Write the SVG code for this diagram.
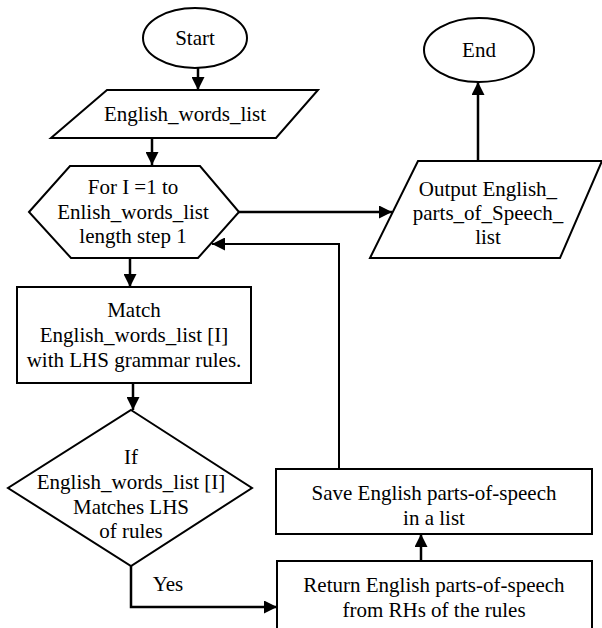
<svg xmlns="http://www.w3.org/2000/svg" width="602" height="628" viewBox="0 0 602 628">
<style>
.s{fill:#fff;stroke:#000;stroke-width:2}
.t{font-family:'Liberation Serif','Times New Roman','DejaVu Serif',serif;font-size:21px;fill:#000;text-anchor:middle}
.c{fill:none;stroke:#000;stroke-width:2.5}
</style>
<defs>
<marker id="a" viewBox="0 0 13 13" refX="13" refY="6.5" markerWidth="13" markerHeight="13" markerUnits="userSpaceOnUse" orient="auto">
<path d="M0,0L13,6.5L0,13z" fill="#000"/>
</marker>
</defs>
<rect width="602" height="628" fill="#fff"/>
<g font-family="Liberation Serif, Times New Roman, serif">
<g id="start"><ellipse class="s" cx="195" cy="38" rx="52" ry="30"/><text class="t" x="195" y="45">Start</text></g>
<g id="input"><polygon class="s" points="107,90 318,90 276,138 51,138"/><text class="t" x="185" y="121">English_words_list</text></g>
<g id="loop"><polygon class="s" points="29,212 70,166 200,166 239,212 198,258 71,258"/>
<text class="t" x="133" y="194">For I =1 to</text><text class="t" x="133" y="219">Enlish_words_list</text><text class="t" x="133" y="243">length step 1</text></g>
<g id="match"><rect class="s" x="17" y="287" width="234" height="96"/>
<text class="t" x="134" y="317">Match</text><text class="t" x="134" y="342">English_words_list [I]</text><text class="t" x="134" y="367">with LHS grammar rules.</text></g>
<g id="decision"><polygon class="s" points="131,410 252,488 131,566 8,488"/>
<text class="t" x="131" y="464">If</text><text class="t" x="131" y="489">English_words_list [I]</text><text class="t" x="131" y="514">Matches LHS</text><text class="t" x="131" y="538">of rules</text></g>
<g id="output"><polygon class="s" points="418,161 602,161 560,258 370,258"/>
<text class="t" x="488" y="196">Output English_</text><text class="t" x="488" y="220">parts_of_Speech_</text><text class="t" x="488" y="244">list</text></g>
<g id="end"><ellipse class="s" cx="479" cy="50" rx="55" ry="32"/><text class="t" x="479" y="57">End</text></g>
<g id="save"><rect class="s" x="276" y="469" width="316" height="65"/>
<text class="t" x="434" y="500">Save English parts-of-speech</text><text class="t" x="434" y="525">in a list</text></g>
<g id="return"><rect class="s" x="277" y="561" width="315" height="80"/>
<text class="t" x="434" y="592">Return English parts-of-speech</text><text class="t" x="434" y="617">from RHs of the rules</text></g>
<g id="connectors">
<path class="c" d="M198,68V90" marker-end="url(#a)"/>
<path class="c" d="M152,138V165" marker-end="url(#a)"/>
<path class="c" d="M239,212H392" marker-end="url(#a)"/>
<path class="c" d="M478,161V82" marker-end="url(#a)"/>
<path class="c" d="M130,258V287" marker-end="url(#a)"/>
<path class="c" d="M133,383V410" marker-end="url(#a)"/>
<path class="c" d="M131,566V607H277" marker-end="url(#a)"/>
<path class="c" d="M421,561V534" marker-end="url(#a)"/>
<path class="c" d="M339,469V244H212" style="stroke-width:2" marker-end="url(#a)"/>
<text class="t" x="168" y="591">Yes</text>
</g>
</g>
</svg>
